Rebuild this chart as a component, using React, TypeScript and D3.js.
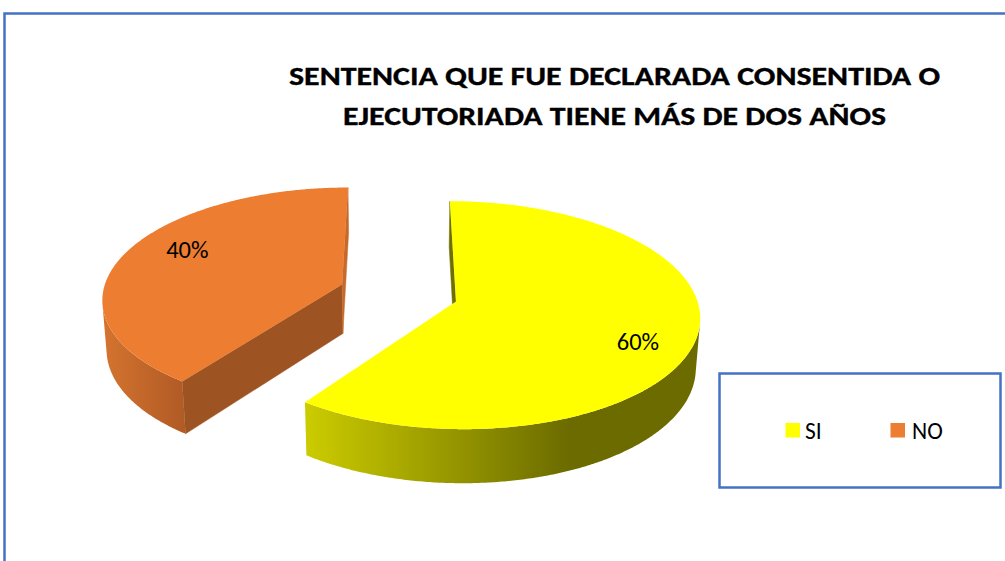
import React from 'react';
import * as d3 from 'd3';

// ---- data ----
const categories = ['SI', 'NO'];
const values = [60, 40];
const valueLabels = ['60%', '40%'];
const topColors = ['#ffff00', '#ed7d31'];
const sideLight = ['#cccc00', '#d4742f'];
const sideDark = ['#6b6b00', '#b05a25'];
const wallStartColors = ['#6f6f00', '#9e5323'];
const wallEndColors = ['#6f6f00', '#c66a2b'];
const titleLines = ['SENTENCIA QUE FUE DECLARADA CONSENTIDA O', 'EJECUTORIADA TIENE MÁS DE DOS AÑOS'];

// ---- layout / projection ----
const W = 1005;
const H = 561;
const CX = 398.5;
const CY = 293;
const S = 239.4;
const D = 7.53;
const ALPHA = (27.45 * Math.PI) / 180;
const EXPLODE = 0.25;
const THICK = 0.235;
const cosA = Math.cos(ALPHA);
const sinA = Math.sin(ALPHA);
const CAM = [0, D * sinA, D * cosA];
const FONT = "Carlito, Calibri, Lato, 'Open Sans', sans-serif";

function project(X: number, Y: number, Z: number): [number, number] {
  const yv = Y * cosA - Z * sinA;
  const zv = Y * sinA + Z * cosA;
  const k = (S * D) / (D - zv);
  return [CX + X * k, CY - yv * k];
}

const line = d3.line<[number, number]>();

export default function App() {
  const arcs = d3.pie<number>().sort(null).value((d) => d)(values);

  const slices = arcs.map((a, i) => {
    const a0 = a.startAngle;
    const a1 = a.endAngle;
    const m = (a0 + a1) / 2;
    const ox = EXPLODE * Math.sin(m);
    const oz = -EXPLODE * Math.cos(m);
    const pt = (r: number, t: number, y: number) =>
      project(ox + r * Math.sin(t), y, oz - r * Math.cos(t));
    const n = Math.max(2, Math.ceil((a1 - a0) / (Math.PI / 360)));
    const dt = (a1 - a0) / n;
    // top face
    const topPts: [number, number][] = [pt(0, 0, 0)];
    for (let j = 0; j <= n; j++) topPts.push(pt(1, a0 + j * dt, 0));
    const topPath = line(topPts) + 'Z';
    // outer side, visible runs
    const vis: boolean[] = [];
    for (let j = 0; j < n; j++) {
      const t = a0 + (j + 0.5) * dt;
      const px = ox + Math.sin(t);
      const pz = oz - Math.cos(t);
      const dot = (CAM[0] - px) * Math.sin(t) + (CAM[2] - pz) * -Math.cos(t);
      vis.push(dot > 0);
    }
    const sidePaths: string[] = [];
    let minX = Infinity;
    let maxX = -Infinity;
    let j = 0;
    while (j < n) {
      if (!vis[j]) { j++; continue; }
      let k = j;
      while (k + 1 < n && vis[k + 1]) k++;
      const up: [number, number][] = [];
      const dn: [number, number][] = [];
      for (let q = j; q <= k + 1; q++) {
        const t = a0 + q * dt;
        up.push(pt(1, t, 0));
        dn.push(pt(1, t, -THICK));
      }
      const poly = up.concat(dn.reverse());
      poly.forEach((p) => { minX = Math.min(minX, p[0]); maxX = Math.max(maxX, p[0]); });
      sidePaths.push(line(poly) + 'Z');
      j = k + 1;
    }
    // radial walls
    const walls: { d: string; fill: string }[] = [];
    const apexDot = (nx: number, nz: number) => (CAM[0] - ox) * nx + (CAM[2] - oz) * nz;
    const wallPath = (t: number) =>
      line([pt(0, t, 0), pt(1, t, 0), pt(1, t, -THICK), pt(0, t, -THICK)]) + 'Z';
    if (apexDot(-Math.cos(a0), -Math.sin(a0)) > 0) walls.push({ d: wallPath(a0), fill: wallStartColors[i] });
    if (apexDot(Math.cos(a1), Math.sin(a1)) > 0) walls.push({ d: wallPath(a1), fill: wallEndColors[i] });
    // label
    const lt = m + (8 * Math.PI) / 180;
    const lp = pt(0.78, lt, 0);
    return { i, oz, topPath, sidePaths, walls, minX, maxX, lp };
  });

  const order = [...slices].sort((p, q) => p.oz - q.oz);

  return (
    <svg width={W} height={H} style={{ position: 'absolute', left: 0, top: 0, background: '#fff' }}>
      <defs>
        {slices.map((s) => (
          <linearGradient key={s.i} id={`side-${s.i}`} gradientUnits="userSpaceOnUse" x1={s.minX} x2={s.maxX} y1={0} y2={0}>
            <stop offset={0} stopColor={sideLight[s.i]} />
            <stop offset={s.i === 0 ? 0.67 : 1} stopColor={sideDark[s.i]} />
            <stop offset={1} stopColor={sideDark[s.i]} />
          </linearGradient>
        ))}
      </defs>
      <rect x={0} y={0} width={W} height={H} fill="#fff" />
      <path d={`M4.5,${H}V13.5H${W}`} fill="none" stroke="#4472c4" strokeWidth={2.5} />
      <g fontFamily={FONT} fontWeight="bold" fontSize={27} textAnchor="middle" fill="#000" stroke="#000" strokeWidth={0.35}>
        <text x={614.5} y={85} textLength={651} lengthAdjust="spacingAndGlyphs">{titleLines[0]}</text>
        <text x={614.5} y={125} textLength={543} lengthAdjust="spacingAndGlyphs">{titleLines[1]}</text>
      </g>
      {order.map((s) => (
        <g key={s.i}>
          {s.walls.map((w, k) => (
            <path key={`w${k}`} d={w.d} fill={w.fill} stroke={w.fill} strokeWidth={0.5} />
          ))}
          {s.sidePaths.map((d, k) => (
            <path key={`s${k}`} d={d} fill={`url(#side-${s.i})`} />
          ))}
          <path d={s.topPath} fill={topColors[s.i]} />
        </g>
      ))}
      {slices.map((s) => (
        <text key={`l${s.i}`} x={s.lp[0] + 3} y={s.lp[1]} dy="0.36em" textAnchor="middle" fontFamily={FONT} fontSize={24.5} fill="#000">
          {valueLabels[s.i]}
        </text>
      ))}
      <rect x={719.5} y={373.5} width={281} height={114} fill="#fff" stroke="#4472c4" strokeWidth={2.5} />
      {categories.map((c, i) => (
        <g key={c} fontFamily={FONT} fontSize={23.5} fill="#000">
          <rect x={i === 0 ? 785.5 : 890.5} y={423} width={14.5} height={14.5} fill={topColors[i]} />
          <text x={i === 0 ? 805 : 912} y={438.5}>{c}</text>
        </g>
      ))}
    </svg>
  );
}
